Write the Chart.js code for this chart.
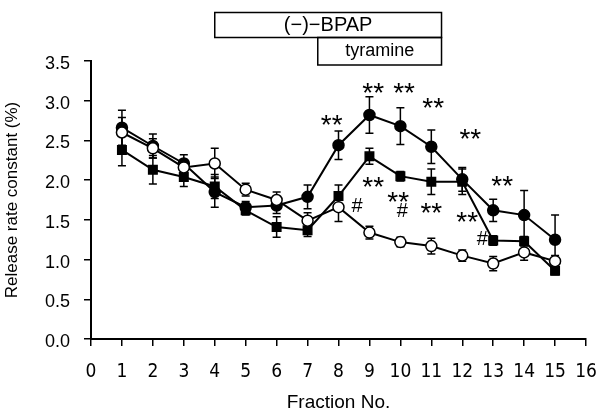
<!DOCTYPE html>
<html>
<head>
<meta charset="utf-8">
<script src="https://cdn.jsdelivr.net/npm/chart.js@4/dist/chart.umd.min.js"></script>
<style>
  html, body { margin: 0; padding: 0; background: #fff; }
  #wrap { width: 598px; height: 414px; }
</style>
</head>
<body>
<div id="wrap"><canvas id="chart"></canvas></div>
<script>
// --- data ---
const fractions = [1, 2, 3, 4, 5, 6, 7, 8, 9, 10, 11, 12, 13, 14, 15];

// filled circles
const bpapTyr = [2.66, 2.43, 2.21, 1.85, 1.66, 1.68, 1.79, 2.44, 2.82, 2.68, 2.42, 2.01, 1.62, 1.56, 1.25];
const bpapTyrErr = [0.22, 0.15, 0.11, 0.19, 0.07, 0.10, 0.15, 0.18, 0.23, 0.23, 0.21, 0.15, 0.14, 0.31, 0.31];

// filled squares
const tyr = [2.38, 2.13, 2.04, 1.92, 1.62, 1.41, 1.37, 1.80, 2.30, 2.05, 1.98, 1.98, 1.24, 1.23, 0.86];
const tyrErr = [0.20, 0.18, 0.12, 0.15, 0.06, 0.13, 0.08, 0.14, 0.10, 0.06, 0.16, 0.16, 0.06, 0.06, 0.05];

// open circles
const control = [2.60, 2.40, 2.16, 2.21, 1.88, 1.75, 1.49, 1.66, 1.34, 1.22, 1.17, 1.05, 0.95, 1.09, 0.98];
const controlErr = [0.19, 0.12, 0.10, 0.19, 0.08, 0.10, 0.10, 0.18, 0.08, 0.06, 0.10, 0.07, 0.09, 0.10, 0.07];

// significance marks: [fraction, value, text]
const marks = [
  [7.78, 2.76, '**'], [9.12, 3.17, '**'], [10.12, 3.17, '**'], [11.06, 2.98, '**'],
  [12.26, 2.59, '**'], [13.29, 2.00, '**'],
  [9.12, 1.98, '**'], [9.93, 1.80, '**'], [10.06, 1.60, '#'], [11.0, 1.66, '**'],
  [12.16, 1.55, '**'], [8.6, 1.67, '#'], [12.65, 1.25, '#']
];

// treatment periods (fraction range)
const bpapRange = [4, 11.33];
const tyramineRange = [7.33, 11.33];

const xTicks = [0, 16, 1];
const yTicks = [0, 3.5, 0.5];

const narrow = '"DejaVu Sans Condensed", "Liberation Sans Narrow", "Liberation Sans", Arial, sans-serif';
const sans = '"Liberation Sans", Arial, sans-serif';

function pts(ys) {
  return fractions.map((f, i) => ({ x: f, y: ys[i] }));
}

const errorBars = {
  id: 'errorBars',
  beforeDatasetsDraw(chart) {
    const { ctx, scales: { x, y } } = chart;
    ctx.save();
    ctx.strokeStyle = '#000';
    ctx.lineWidth = 1.5;
    chart.data.datasets.forEach(ds => {
      ds.data.forEach((p, i) => {
        const e = ds.errors[i];
        const px = x.getPixelForValue(p.x);
        const top = y.getPixelForValue(p.y + e);
        const bot = y.getPixelForValue(p.y - e);
        ctx.beginPath();
        ctx.moveTo(px, top); ctx.lineTo(px, bot);
        ctx.moveTo(px - 4, top); ctx.lineTo(px + 4, top);
        ctx.moveTo(px - 4, bot); ctx.lineTo(px + 4, bot);
        ctx.stroke();
      });
    });
    ctx.restore();
  }
};

const extras = {
  id: 'extras',
  afterDraw(chart) {
    const { ctx, chartArea, scales: { x, y } } = chart;
    ctx.save();
    ctx.fillStyle = '#000';
    ctx.textAlign = 'center';
    ctx.textBaseline = 'middle';
    marks.forEach(([fx, fy, t]) => {
      const px = x.getPixelForValue(fx);
      const py = y.getPixelForValue(fy);
      if (t === '#') {
        ctx.font = '20px ' + sans;
        ctx.fillText(t, px, py);
      } else {
        ctx.font = '28px ' + sans;
        ctx.fillText(t, px, py + 7);
      }
    });

    // treatment boxes above the plot
    const t0 = chartArea.top;
    ctx.strokeStyle = '#000';
    ctx.lineWidth = 1.5;
    const bx0 = x.getPixelForValue(bpapRange[0]);
    const bx1 = x.getPixelForValue(bpapRange[1]);
    ctx.strokeRect(bx0, t0 - 48.5, bx1 - bx0, 25);
    const tx0 = x.getPixelForValue(tyramineRange[0]);
    const tx1 = x.getPixelForValue(tyramineRange[1]);
    ctx.strokeRect(tx0, t0 - 23.5, tx1 - tx0, 27.5);
    ctx.font = '20px ' + sans;
    ctx.fillText('(−)−BPAP', (bx0 + bx1) / 2, t0 - 35.5);
    ctx.font = '18px ' + sans;
    ctx.fillText('tyramine', (tx0 + tx1) / 2, t0 - 9.5);
    ctx.restore();
  }
};

function series(data, errors, style) {
  return Object.assign({
    data: pts(data),
    errors: errors,
    borderColor: '#000',
    borderWidth: 2,
    pointBorderColor: '#000',
    pointBorderWidth: 1.5,
    pointRadius: 5.5,
    tension: 0,
    fill: false
  }, style);
}

new Chart(document.getElementById('chart'), {
  type: 'line',
  data: {
    datasets: [
      series(control, controlErr, { pointStyle: 'circle', pointBackgroundColor: '#fff', order: 1 }),
      series(tyr, tyrErr, { pointStyle: 'rect', pointRadius: 6, pointBackgroundColor: '#000', order: 2 }),
      series(bpapTyr, bpapTyrErr, { pointStyle: 'circle', pointBackgroundColor: '#000', order: 3 })
    ]
  },
  options: {
    responsive: true,
    maintainAspectRatio: false,
    animation: false,
    layout: { padding: { top: 61, right: 12, left: 0, bottom: 0 } },
    plugins: { legend: { display: false }, tooltip: { enabled: false } },
    scales: {
      x: {
        type: 'linear',
        min: xTicks[0], max: xTicks[1],
        afterFit: s => { s.height = 75; s.paddingLeft = 0; s.paddingRight = 0; },
        ticks: { stepSize: xTicks[2], color: '#000', font: { family: narrow, size: 19 }, padding: 15, maxRotation: 0 },
        grid: { display: true, drawOnChartArea: false, drawTicks: true, tickLength: 7, color: '#000', lineWidth: 1.5 },
        border: { color: '#000', width: 2 },
        title: { display: true, text: 'Fraction No.', color: '#000', font: { family: sans, size: 19 }, padding: { top: 3, bottom: 0 } }
      },
      y: {
        min: yTicks[0], max: yTicks[1],
        afterFit: s => { s.width = 91; s.paddingTop = 0; s.paddingBottom = 0; },
        ticks: { stepSize: yTicks[2], color: '#000', font: { family: sans, size: 18 }, padding: 14, labelOffset: 3, callback: v => v.toFixed(1) },
        grid: { display: true, drawOnChartArea: false, drawTicks: true, tickLength: 7, color: '#000', lineWidth: 1.5 },
        border: { color: '#000', width: 2 },
        title: { display: true, text: 'Release rate constant (%)', color: '#000', font: { family: sans, size: 17 }, padding: { top: 2, bottom: 0 } }
      }
    }
  },
  plugins: [errorBars, extras]
});
</script>
</body>
</html>
